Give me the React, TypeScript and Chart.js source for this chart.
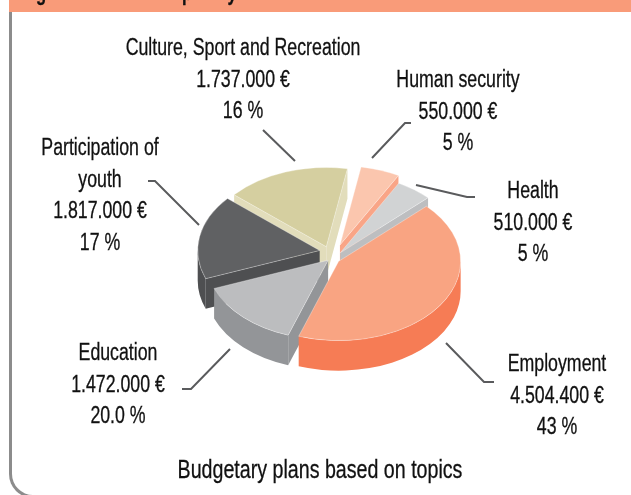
import React, { useEffect, useRef } from "react";
import { Chart, registerables } from "chart.js";

Chart.register(...registerables);

// Data, clockwise from the Employment slice
const categories = ["Employment", "Education", "Participation of youth", "Culture, Sport and Recreation", "Human security", "Health"];
const budgets = [4504400, 1472000, 1817000, 1737000, 550000, 510000];
const amountLabels = ["4.504.400 €", "1.472.000 €", "1.817.000 €", "1.737.000 €", "550.000 €", "510.000 €"];
const percentLabels = ["43 %", "20.0 %", "17 %", "16 %", "5 %", "5 %"];
const chartTitle = "Budgetary plans based on topics";

// Styles
const topColors = ["#F9A482", "#BCBDBF", "#606163", "#D5CFA0", "#FBC6AE", "#D1D3D4"];
const sideColors = ["#F67C55", "#939598", "#4E4F51", "#E2DDBB", "#F9A587", "#BDBEC0"];
const explode = [6.7, 7, 13.5, 20, 21, 12];
const lift = [0, 2, 7, 0, 1, 0];
const paintOrder = [3, 4, 5, 2, 1, 0];
const SQUASH = 0.65;
const DEPTH = 30;
const FONT_FAMILY = '"Liberation Sans", sans-serif';
const LEADER_COLOR = "#5A5B5D";
const LINE_STEP = 31.5;
const NARROW = 0.755;

// Label layout: text centre, first baseline, and leader-line elbows
const labelLayout = [
  { x: 557, y: 371, leader: [[446, 343], [484, 382], [494, 382]] },
  { x: 118, y: 360, leader: [[230, 349], [191, 389], [182, 389]] },
  { x: 100, y: 155, leader: [[199, 225], [155, 181], [148, 181]] },
  { x: 243, y: 55, leader: [[295, 161], [263, 130]] },
  { x: 458, y: 87, leader: [[372, 158], [405, 123], [411, 123]] },
  { x: 533, y: 198, leader: [[416, 185], [467, 197], [475, 197]] },
];
const wrappedNames = [["Employment"], ["Education"], ["Participation of", "youth"], ["Culture, Sport and Recreation"], ["Human security"], ["Health"]];
const clippedHeading = [["g", 41], ["p", 187], ["y", 232]];

function narrowText(ctx: CanvasRenderingContext2D, t: string, x: number, y: number) {
  ctx.save();
  ctx.translate(x, y);
  ctx.scale(NARROW, 1);
  ctx.fillText(t, 0, 0);
  ctx.lineWidth = 0.3;
  ctx.strokeStyle = ctx.fillStyle;
  ctx.strokeText(t, 0, 0);
  ctx.restore();
}

function outerWall(ctx: CanvasRenderingContext2D, x: number, y: number, r: number, s: number, e: number) {
  const TAU = Math.PI * 2;
  for (const k of [-1, 0, 1]) {
    const a0 = Math.max(s, k * TAU);
    const a1 = Math.min(e, k * TAU + Math.PI);
    if (a1 <= a0) continue;
    ctx.beginPath();
    ctx.ellipse(x, y, r, r * SQUASH, 0, a0, a1);
    ctx.ellipse(x, y + DEPTH, r, r * SQUASH, 0, a1, a0, true);
    ctx.closePath();
    ctx.fill();
  }
}

function radialFace(ctx: CanvasRenderingContext2D, x: number, y: number, r: number, a: number) {
  const ex = x + r * Math.cos(a);
  const ey = y + r * SQUASH * Math.sin(a);
  ctx.beginPath();
  ctx.moveTo(x, y);
  ctx.lineTo(ex, ey);
  ctx.lineTo(ex, ey + DEPTH);
  ctx.lineTo(x, y + DEPTH);
  ctx.closePath();
  ctx.fill();
}

const pie3d = {
  id: "pie3d",
  beforeDatasetDraw(chart: any) {
    const { ctx } = chart;
    const arcs = chart.getDatasetMeta(0).data;
    for (const i of paintOrder) {
      const arc = arcs[i];
      const mid = (arc.startAngle + arc.endAngle) / 2;
      const off = arc.options.offset || 0;
      const x = arc.x + Math.cos(mid) * off;
      const y = arc.y + Math.sin(mid) * off * SQUASH - lift[i];
      const r = arc.outerRadius;
      ctx.save();
      ctx.fillStyle = sideColors[i];
      if (Math.cos(arc.startAngle) < 0) radialFace(ctx, x, y, r, arc.startAngle);
      if (Math.cos(arc.endAngle) > 0) radialFace(ctx, x, y, r, arc.endAngle);
      outerWall(ctx, x, y, r, arc.startAngle, arc.endAngle);
      ctx.beginPath();
      ctx.moveTo(x, y);
      ctx.ellipse(x, y, r, r * SQUASH, 0, arc.startAngle, arc.endAngle);
      ctx.closePath();
      ctx.fillStyle = arc.options.backgroundColor;
      ctx.fill();
      ctx.strokeStyle = "rgba(255,255,255,0.55)";
      ctx.lineWidth = 0.6;
      ctx.stroke();
      ctx.restore();
    }
    return false;
  },
  afterDraw(chart: any) {
    const { ctx } = chart;
    ctx.save();
    ctx.textAlign = "center";
    ctx.textBaseline = "alphabetic";
    ctx.fillStyle = "#111111";
    ctx.font = `23.5px ${FONT_FAMILY}`;
    categories.forEach((_, i) => {
      const p = labelLayout[i];
      const lines = [...wrappedNames[i], amountLabels[i], percentLabels[i]];
      lines.forEach((t, j) => narrowText(ctx, t, p.x, p.y + j * LINE_STEP));
      ctx.beginPath();
      p.leader.forEach(([lx, ly], j) => (j ? ctx.lineTo(lx, ly) : ctx.moveTo(lx, ly)));
      ctx.strokeStyle = LEADER_COLOR;
      ctx.lineWidth = 2;
      ctx.stroke();
    });
    ctx.font = `26px ${FONT_FAMILY}`;
    narrowText(ctx, chartTitle, 320, 478);
    ctx.font = `bold 22px ${FONT_FAMILY}`;
    clippedHeading.forEach(([t, x]) => narrowText(ctx, t as string, x as number, 0));
    ctx.restore();
  },
};

export default function App() {
  const ref = useRef<HTMLCanvasElement>(null);
  useEffect(() => {
    const chart = new Chart(ref.current!, {
      type: "pie",
      data: {
        labels: categories,
        datasets: [{ data: budgets, backgroundColor: topColors, offset: explode, borderWidth: 0 }],
      },
      options: {
        responsive: false,
        animation: false,
        rotation: 46,
        radius: 122,
        layout: { padding: { left: 35, top: 23 } },
        plugins: { legend: { display: false }, tooltip: { enabled: false } },
      },
      plugins: [pie3d],
    } as any);
    return () => chart.destroy();
  }, []);
  return (
    <div style={{ position: "fixed", left: 0, top: 0, width: 631, height: 495, overflow: "hidden", background: "#fff" }}>
      <div style={{ position: "absolute", left: 9, top: 12, width: 700, height: 483, borderLeft: "3px solid #8C8C8C", borderBottom: "3px solid #8C8C8C", borderRadius: "0 0 0 24px" }} />
      <div style={{ position: "absolute", left: 9, top: 0, width: 622, height: 12, background: "#F99B79" }} />
      <canvas ref={ref} width={631} height={495} style={{ position: "absolute", left: 0, top: 0 }} />
    </div>
  );
}
